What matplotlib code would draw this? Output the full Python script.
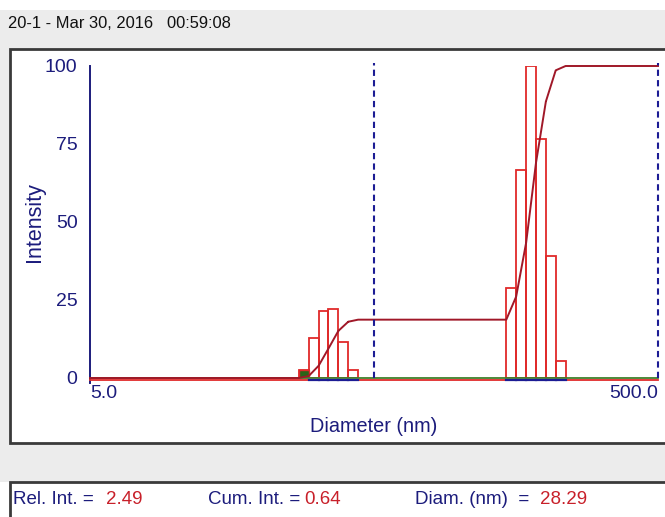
import numpy as np
import matplotlib
matplotlib.use("Agg")
import matplotlib.pyplot as plt
from matplotlib.patches import Rectangle
from matplotlib.ticker import FixedLocator
import matplotlib.transforms as mtransforms

plt.rcParams['font.family'] = ['Liberation Sans', 'DejaVu Sans']

# ---- data ----
diameters = [28.29, 30.65, 33.21, 35.98, 38.98, 42.23,
             152.1, 164.8, 178.6, 193.5, 209.6, 227.1]
intensity = [2.49, 12.7, 21.6, 22.0, 11.4, 2.6,
             28.8, 66.7, 100.0, 76.5, 39.1, 5.4]
selected_index = 0
bin_ratio = 1.0834
cursor_diams = [50.0, 500.0]
x_range = [5.0, 500.0]
y_ticks = [0, 25, 50, 75, 100]
x_tick_labels = ["5.0", "500.0"]
title = "20-1 - Mar 30, 2016   00:59:08"
info_labels = ["Rel. Int. =", "Cum. Int. =", "Diam. (nm)  ="]
info_values = ["2.49", "0.64", "28.29"]

NAVY = "#1c1c7c"
RED = "#e02a2a"
DRED = "#a01828"
GREEN = "#3f7f2a"
DGREEN = "#2a6418"
BLUE = "#1c1c94"
VALRED = "#c8202a"

W, H = 665, 517
fig = plt.figure(figsize=(W / 100, H / 100), dpi=100)
fig.patch.set_facecolor("white")


def fx(x):
    return x / W


def fy(y):
    return 1 - y / H


def frect(x0, y0, x1, y1, z, **kw):
    r = Rectangle((fx(x0), fy(y1)), fx(x1) - fx(x0), fy(y0) - fy(y1),
                  transform=fig.transFigure, zorder=z, **kw)
    fig.add_artist(r)


# background bands and boxes
frect(0, 10, 700, 482, -3, facecolor="#ececec", edgecolor="none")
frect(10, 49, 700, 443, -2, facecolor="white", edgecolor="#3a3a3a", linewidth=2)
frect(10, 482, 700, 540, -2, facecolor="white", edgecolor="#3a3a3a", linewidth=2)

fig.text(fx(8), fy(24), title, fontsize=11.9, color="#111111", ha="left", va="center")

# ---- axes ----
ax = fig.add_axes([fx(90), fy(378), fx(658) - fx(90), fy(66) - fy(378)])
ax.set_zorder(1)
ax.set_facecolor("none")
ax.set_xscale("log")
ax.set_xlim(*x_range)
ax.set_ylim(0, 100)
for s in ["top", "right", "bottom"]:
    ax.spines[s].set_visible(False)
ax.spines["left"].set_color(NAVY)
ax.spines["left"].set_linewidth(1.4)
ax.spines["left"].set_bounds(-1.6, 100)

ax.set_yticks(y_ticks)
ax.set_yticklabels([str(t) for t in y_ticks])
ax.yaxis.set_minor_locator(FixedLocator([0, 100]))
ax.tick_params(axis="y", which="major", length=0, pad=9, labelsize=14, labelcolor=NAVY)
ax.tick_params(axis="y", which="minor", length=3, width=1.2, color=NAVY, direction="out")

ax.set_xticks(x_range)
ax.set_xticklabels(x_tick_labels)
ax.xaxis.set_minor_locator(FixedLocator([]))
ax.tick_params(axis="x", which="major", length=0, pad=5, labelsize=14, labelcolor=NAVY)
xl = ax.get_xticklabels()
xl[0].set_ha("left")
xl[1].set_ha("right")

ax.set_xlabel("Diameter (nm)", fontsize=14.3, color=NAVY, labelpad=11)
ax.set_ylabel("Intensity", fontsize=15.5, color=NAVY, labelpad=0)

# bars
d = np.array(diameters)
inten = np.array(intensity)
lo = d / np.sqrt(bin_ratio)
hi = d * np.sqrt(bin_ratio)
widths = hi - lo
ax.bar(lo, inten, width=widths, align="edge", facecolor="none",
       edgecolor=RED, linewidth=1.3, zorder=2)
ax.bar(lo[selected_index], inten[selected_index], width=widths[selected_index],
       align="edge", facecolor=DGREEN, edgecolor=RED, linewidth=1.0, zorder=2.2)

# baselines
down = mtransforms.offset_copy(ax.transData, fig=fig, x=0, y=-1.6, units="dots")
ax.plot(x_range, [0, 0], color=RED, linewidth=1.3, transform=down, zorder=3, clip_on=False)
for i in range(len(d)):
    if i != selected_index:
        ax.plot([lo[i], hi[i]], [0, 0], color=BLUE, linewidth=1.6, transform=down,
                zorder=3.5, clip_on=False)
ax.plot(x_range, [0, 0], color=GREEN, linewidth=1.3, zorder=3.2, clip_on=False)

# cumulative curve
cum = np.cumsum(inten) / inten.sum() * 100
before = np.concatenate([[0], cum[:-1]])
cx = [x_range[0]]
cy = [0.0]
for i in range(len(d)):
    cx += [lo[i], hi[i]]
    cy += [before[i], cum[i]]
cx.append(x_range[1])
cy.append(100.0)
ax.plot(cx, cy, color=DRED, linewidth=1.4, zorder=5, clip_on=False)

# cursors
for c in cursor_diams:
    ax.plot([c, c], [0, 101], color=BLUE, linewidth=1.5, linestyle=(0, (3, 2)),
            zorder=6, clip_on=False)

# bottom info line
renderer = fig.canvas.get_renderer()
info_y = fy(500)
fs = 13.5
label_x = [13, 208, 415]
value_end = [142, 340, 587]
for lab, val, lx, ve in zip(info_labels, info_values, label_x, value_end):
    t = fig.text(fx(lx), info_y, lab, color=NAVY, fontsize=fs, va="center")
    lab_end = t.get_window_extent(renderer).x1
    v = fig.text(0, info_y, val, color=VALRED, fontsize=fs, va="center")
    vw = v.get_window_extent(renderer).width
    vx = max(ve - vw, lab_end + 4)
    v.set_x(vx / W)

fig.savefig("out.png", dpi=100, facecolor=fig.get_facecolor())
